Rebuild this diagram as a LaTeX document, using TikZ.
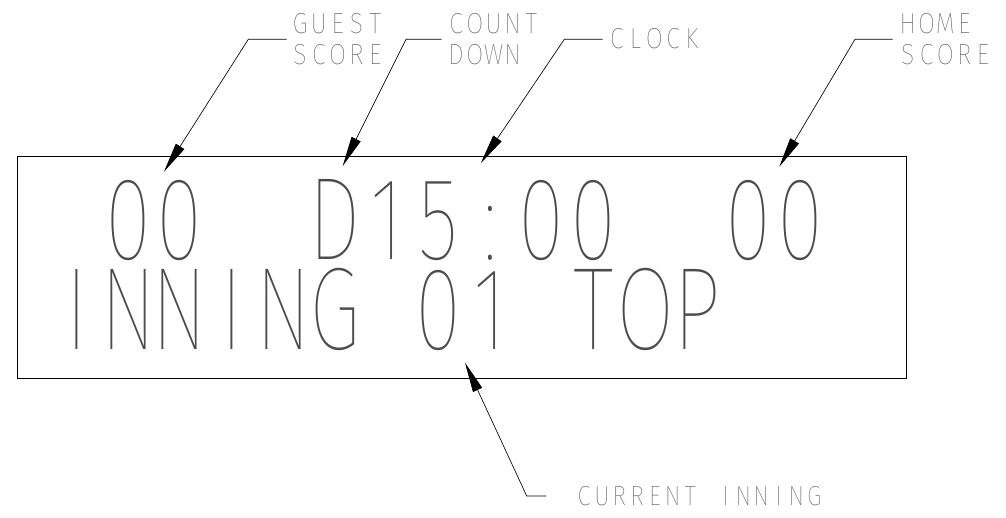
\documentclass[tikz,border=0pt]{standalone}
\usepackage{fontspec}
\usepackage{graphicx}
\usetikzlibrary{arrows.meta}
\IfFontExistsTF{Fira Sans Thin}{\newfontfamily\thinfont{Fira Sans Thin}}{%
  \IfFontExistsTF{Fira Sans ExtraLight}{\newfontfamily\thinfont{Fira Sans ExtraLight}}{%
    \IfFontExistsTF{Fira Sans Light}{\newfontfamily\thinfont{Fira Sans Light}}{\newfontfamily\thinfont{Fira Sans}}}}
\newlength\gcellw
\newcommand\gxs{1}
\makeatletter
\def\gt@end{\gt@end@marker}
\newcommand\gridtext[1]{\gt@loop#1\gt@end}
\def\gt@loop#1{\ifx#1\gt@end\else\makebox[\gcellw][c]{\scalebox{\gxs}[1]{#1}}\expandafter\gt@loop\fi}
\makeatother
\newcommand\gtext[4]{{\thinfont\fontsize{#1}{#1}\selectfont\setlength\gcellw{#2}\renewcommand\gxs{#3}\gridtext{#4}}}
\tikzset{
  lbl/.style={inner sep=0pt, anchor=base west, text=black!70},
  ldr/.style={line width=0.65pt, draw=black, -{Triangle[length=30pt,width=10pt]}},
  frame/.style={draw, line width=1pt, inner sep=0pt, anchor=north west}
}
\begin{document}
\begin{tikzpicture}[x=1pt,y=-1pt]
\useasboundingbox (0,0) rectangle (1006,518);
% display frame
\node[frame, minimum width=888.7pt, minimum height=222pt] (display) at (17.3,156) {};
% display contents
\node[lbl] (row1) at (50.45,259.3) {\gtext{117.6pt}{51.7pt}{0.72}{~00~~D15:00~~00}};
\node[lbl] (row2) at (50.45,349) {\gtext{117.6pt}{51.7pt}{0.72}{INNING~01~TOP}};
% labels
\node[lbl] (guest1) at (290.4,33.3) {\gtext{29pt}{18.8pt}{0.85}{GUEST}};
\node[lbl] (guest2) at (290.4,64.3) {\gtext{29pt}{18.8pt}{0.85}{SCORE}};
\node[lbl] (count1) at (446.4,33.3) {\gtext{29pt}{18.8pt}{0.85}{COUNT}};
\node[lbl] (count2) at (446.4,64.3) {\gtext{29pt}{18.8pt}{0.85}{DOWN}};
\node[lbl] (clock) at (607.1,48.3) {\gtext{29pt}{18.8pt}{0.85}{CLOCK}};
\node[lbl] (home1) at (898.1,33.3) {\gtext{29pt}{18.8pt}{0.85}{HOME}};
\node[lbl] (home2) at (898.1,64.3) {\gtext{29pt}{18.8pt}{0.85}{SCORE}};
\node[lbl] (inning) at (575,505.7) {\gtext{27.6pt}{17.7pt}{0.85}{CURRENT~INNING}};
% leader coordinates
\coordinate (gA) at (286.7,39.3); \coordinate (gB) at (248.3,39.3); \coordinate (gT) at (164,171.7);
\coordinate (cA) at (441.7,39.3); \coordinate (cB) at (406,39.3);   \coordinate (cT) at (342.7,166);
\coordinate (kA) at (602.7,39.3); \coordinate (kB) at (564.3,39.3); \coordinate (kT) at (480.7,163.3);
\coordinate (hA) at (892.7,39.3); \coordinate (hB) at (855,39.3);   \coordinate (hT) at (779.3,166.7);
\coordinate (iA) at (546,496);    \coordinate (iB) at (526.7,496);  \coordinate (iT) at (465,362.7);
\draw[ldr] (gA) -- (gB) -- (gT);
\draw[ldr] (cA) -- (cB) -- (cT);
\draw[ldr] (kA) -- (kB) -- (kT);
\draw[ldr] (hA) -- (hB) -- (hT);
\draw[ldr] (iA) -- (iB) -- (iT);
\end{tikzpicture}
\end{document}
